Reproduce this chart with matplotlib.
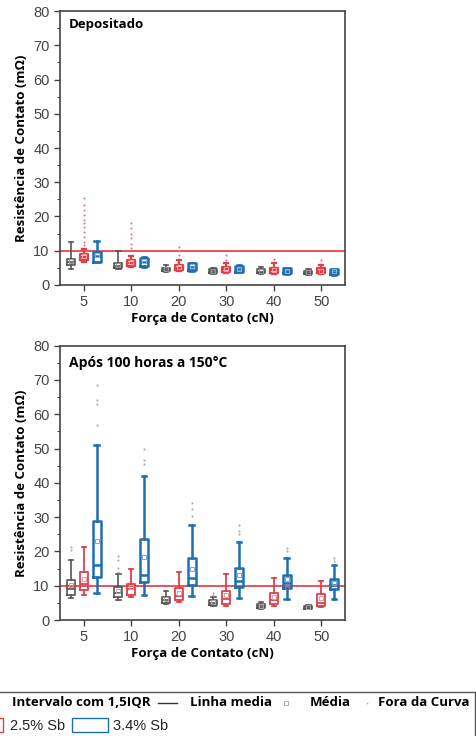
import matplotlib
matplotlib.use("Agg")
import matplotlib.pyplot as plt
from matplotlib.patches import Rectangle
from matplotlib.lines import Line2D
from matplotlib.ticker import MultipleLocator

# Forca de contato (cN)
forces = ['5', '10', '20', '30', '40', '50']

# Depositado - 0% Sb (preto)
dep0_lo = [4.7, 4.6, 3.9, 3.3, 3.1, 2.9]
dep0_q1 = [5.8, 4.9, 4.2, 3.6, 3.4, 3.1]
dep0_med = [6.8, 5.5, 4.6, 4.0, 3.9, 3.6]
dep0_q3 = [7.5, 6.3, 5.0, 4.6, 4.6, 4.2]
dep0_hi = [12.6, 9.9, 5.8, 5.1, 5.2, 4.6]
dep0_mean = [7.0, 5.7, 4.7, 4.1, 4.0, 3.7]
dep0_out = [[], [], [], [], [], []]

# Depositado - 2.5% Sb (vermelho)
dep25_lo = [6.8, 5.2, 4.2, 3.6, 3.3, 3.1]
dep25_q1 = [7.3, 5.5, 4.4, 3.9, 3.6, 3.4]
dep25_med = [8.2, 6.5, 5.1, 4.6, 4.3, 4.1]
dep25_q3 = [9.0, 7.3, 5.8, 5.3, 5.1, 5.1]
dep25_hi = [10.4, 8.4, 7.3, 6.3, 6.3, 5.8]
dep25_mean = [8.4, 6.7, 5.2, 4.7, 4.4, 4.2]
dep25_out = [[11.7, 12.6, 14.0, 15.5, 16.8, 18.0, 19.1, 20.4, 21.8, 23.3, 25.5],
             [10.7, 11.9, 13.6, 15.0, 16.5, 18.0],
             [8.7, 10.0, 11.2],
             [7.3, 8.7],
             [7.5],
             [7.3]]

# Depositado - 3.4% Sb (azul)
dep34_lo = [6.6, 5.3, 4.2, 3.7, 3.2, 3.0]
dep34_q1 = [6.8, 5.5, 4.4, 3.9, 3.4, 3.2]
dep34_med = [8.5, 6.8, 5.3, 4.7, 4.2, 3.9]
dep34_q3 = [9.7, 8.0, 6.3, 5.5, 4.9, 4.6]
dep34_hi = [12.9, 8.3, 6.5, 5.7, 5.1, 4.8]
dep34_mean = [8.7, 6.9, 5.4, 4.8, 4.2, 4.0]
dep34_out = [[], [], [], [], [], []]

# Apos 100 horas a 150C - 0% Sb
env0_lo = [6.4, 5.9, 4.7, 4.1, 3.3, 3.2]
env0_q1 = [7.4, 6.7, 4.9, 4.4, 3.5, 3.3]
env0_med = [9.1, 7.8, 5.9, 5.1, 4.0, 3.7]
env0_q3 = [11.8, 9.5, 6.7, 5.9, 4.6, 4.2]
env0_hi = [17.6, 13.4, 8.6, 6.7, 5.2, 4.5]
env0_mean = [10.1, 8.5, 6.0, 5.2, 4.1, 3.8]
env0_out = [[20.3, 21.3], [14.0, 15.2, 17.6, 18.8], [], [7.4, 8.0], [], []]

# Apos 100 horas a 150C - 2.5% Sb
env25_lo = [7.4, 6.7, 5.2, 4.2, 4.1, 3.9]
env25_q1 = [8.8, 7.4, 5.9, 4.7, 4.7, 4.2]
env25_med = [10.6, 9.0, 6.9, 6.1, 5.7, 5.1]
env25_q3 = [13.9, 10.6, 9.2, 8.6, 7.8, 7.6]
env25_hi = [21.3, 14.9, 14.1, 13.5, 12.2, 11.3]
env25_mean = [12.0, 9.5, 7.8, 7.2, 6.7, 6.4]
env25_out = [[], [], [], [], [], []]

# Apos 100 horas a 150C - 3.4% Sb
env34_lo = [8.0, 7.3, 6.9, 6.4, 6.1, 6.1]
env34_q1 = [12.5, 11.2, 10.2, 9.6, 9.3, 9.0]
env34_med = [15.9, 13.2, 12.2, 11.3, 10.8, 10.3]
env34_q3 = [28.9, 23.7, 18.2, 15.2, 13.0, 12.0]
env34_hi = [51.0, 41.9, 27.6, 22.8, 18.2, 15.9]
env34_mean = [22.9, 18.4, 14.9, 13.0, 11.9, 10.8]
env34_out = [[57.0, 62.9, 64.2, 68.6], [45.6, 46.6, 50.0], [30.4, 32.4, 34.1],
             [25.2, 26.0, 27.7], [20.1, 21.1], [17.2, 18.1]]

limite = 10

BLACK = '#555555'
RED = '#e0404a'
BLUE = '#1f6fb0'
LABEL_FONT = 'Open Sans'


def make_stats(lo, q1, med, q3, hi, mean, out):
    stats = []
    for i in range(len(lo)):
        stats.append(dict(whislo=lo[i], q1=q1[i], med=med[i], q3=q3[i],
                          whishi=hi[i], mean=mean[i], fliers=out[i]))
    return stats


def draw_series(ax, stats, offset, color, lw, mean_color, flier_color):
    pos = [i + offset for i in range(len(stats))]
    ax.bxp(stats, positions=pos, widths=0.17, showmeans=True, showfliers=True,
           manage_ticks=False,
           boxprops=dict(color=color, linewidth=lw),
           whiskerprops=dict(color=color, linewidth=lw),
           capprops=dict(color=color, linewidth=lw),
           medianprops=dict(color=color, linewidth=lw),
           meanprops=dict(marker='s', markersize=3.2, markerfacecolor='none',
                          markeredgecolor=mean_color, markeredgewidth=0.7),
           flierprops=dict(marker='o', markersize=1.5, markerfacecolor=flier_color,
                           markeredgecolor='none', linestyle='none'),
           capwidths=0.09)


def style_axes(ax, title, title_size, title_y):
    ax.set_xlim(-0.5, 5.5)
    ax.set_ylim(0, 80)
    ax.yaxis.set_major_locator(MultipleLocator(10))
    ax.yaxis.set_minor_locator(MultipleLocator(5))
    ax.set_xticks(range(len(forces)))
    ax.set_xticklabels(forces)
    ax.tick_params(axis='both', which='major', direction='out', length=4,
                   width=1, colors='#444444', labelsize=10.5)
    ax.tick_params(axis='y', which='minor', direction='out', length=2, width=0.8,
                   colors='#444444')
    for lbl in ax.get_xticklabels() + ax.get_yticklabels():
        lbl.set_family('Liberation Sans')
    for sp in ax.spines.values():
        sp.set_color('#444444')
        sp.set_linewidth(1.2)
    ax.axhline(limite, color='#e8202a', linewidth=1.1, zorder=1)
    ax.set_ylabel('Resistência de Contato (mΩ)', fontsize=9.5, fontweight='bold',
                  family=LABEL_FONT, labelpad=4)
    ax.set_xlabel('Força de Contato (cN)', fontsize=9.5, fontweight='bold',
                  family=LABEL_FONT, labelpad=2)
    ax.text(0.03, title_y, title, transform=ax.transAxes, ha='left', va='top',
            fontsize=title_size, fontweight='bold', family=LABEL_FONT)


fig = plt.figure(figsize=(4.77, 7.36), dpi=100)
ax1 = fig.add_axes([0.1258, 0.6128, 0.5975, 0.3722])
ax2 = fig.add_axes([0.1258, 0.1576, 0.5975, 0.3727])

draw_series(ax1, make_stats(dep0_lo, dep0_q1, dep0_med, dep0_q3, dep0_hi, dep0_mean, dep0_out),
            -0.27, BLACK, 1.2, '#999999', '#999999')
draw_series(ax1, make_stats(dep25_lo, dep25_q1, dep25_med, dep25_q3, dep25_hi, dep25_mean, dep25_out),
            0.0, RED, 1.6, '#f2a0a4', '#e07a80')
draw_series(ax1, make_stats(dep34_lo, dep34_q1, dep34_med, dep34_q3, dep34_hi, dep34_mean, dep34_out),
            0.27, BLUE, 1.8, '#8fb8dc', '#999999')
style_axes(ax1, 'Depositado', 9.5, 0.975)

draw_series(ax2, make_stats(env0_lo, env0_q1, env0_med, env0_q3, env0_hi, env0_mean, env0_out),
            -0.27, BLACK, 1.2, '#aaaaaa', '#aaaaaa')
draw_series(ax2, make_stats(env25_lo, env25_q1, env25_med, env25_q3, env25_hi, env25_mean, env25_out),
            0.0, RED, 1.3, '#e89aa0', '#aaaaaa')
draw_series(ax2, make_stats(env34_lo, env34_q1, env34_med, env34_q3, env34_hi, env34_mean, env34_out),
            0.27, BLUE, 1.8, '#7fa8cc', '#aaaaaa')
style_axes(ax2, 'Após 100 horas a 150°C', 10, 0.962)

# legenda (cortada a esquerda, como no original)
W, H = 477.0, 736.0
fig.patches.append(Rectangle((-5 / W, -5 / H), 480 / W, (736 - 692 + 5) / H,
                             transform=fig.transFigure, fill=False,
                             edgecolor='#555555', linewidth=1.0))
y1 = 1 - 703 / H
y2 = 1 - 726 / H
fig.text(12 / W, y1, 'Intervalo com 1,5IQR', fontsize=9.5, fontweight='bold',
         family=LABEL_FONT, va='center', ha='left')
fig.lines.append(Line2D([158 / W, 177 / W], [y1, y1], transform=fig.transFigure,
                        color='#333333', linewidth=1.0))
fig.text(190 / W, y1, 'Linha media', fontsize=9.5, fontweight='bold',
         family=LABEL_FONT, va='center', ha='left')
fig.lines.append(Line2D([286 / W], [y1], transform=fig.transFigure, marker='s',
                        markersize=3, markerfacecolor='none',
                        markeredgecolor='#aaaaaa', markeredgewidth=0.7))
fig.text(310 / W, y1, 'Média', fontsize=9.5, fontweight='bold',
         family=LABEL_FONT, va='center', ha='left')
fig.lines.append(Line2D([367 / W], [y1], transform=fig.transFigure, marker='o',
                        markersize=1.3, color='#bbbbbb', markeredgecolor='none'))
fig.text(378 / W, y1, 'Fora da Curva', fontsize=9.5, fontweight='bold',
         family=LABEL_FONT, va='center', ha='left')

fig.patches.append(Rectangle((-30 / W, 1 - 732 / H), 33 / W, 14 / H,
                             transform=fig.transFigure, fill=False,
                             edgecolor=RED, linewidth=1.0))
fig.text(10 / W, y2, '2.5% Sb', fontsize=10.5, family='Liberation Sans',
         va='center', ha='left', color='#222222')
fig.patches.append(Rectangle((72 / W, 1 - 732 / H), 36 / W, 14 / H,
                             transform=fig.transFigure, fill=False,
                             edgecolor=BLUE, linewidth=1.0))
fig.text(113 / W, y2, '3.4% Sb', fontsize=10.5, family='Liberation Sans',
         va='center', ha='left', color='#222222')

fig.savefig('out.png', dpi=100)
